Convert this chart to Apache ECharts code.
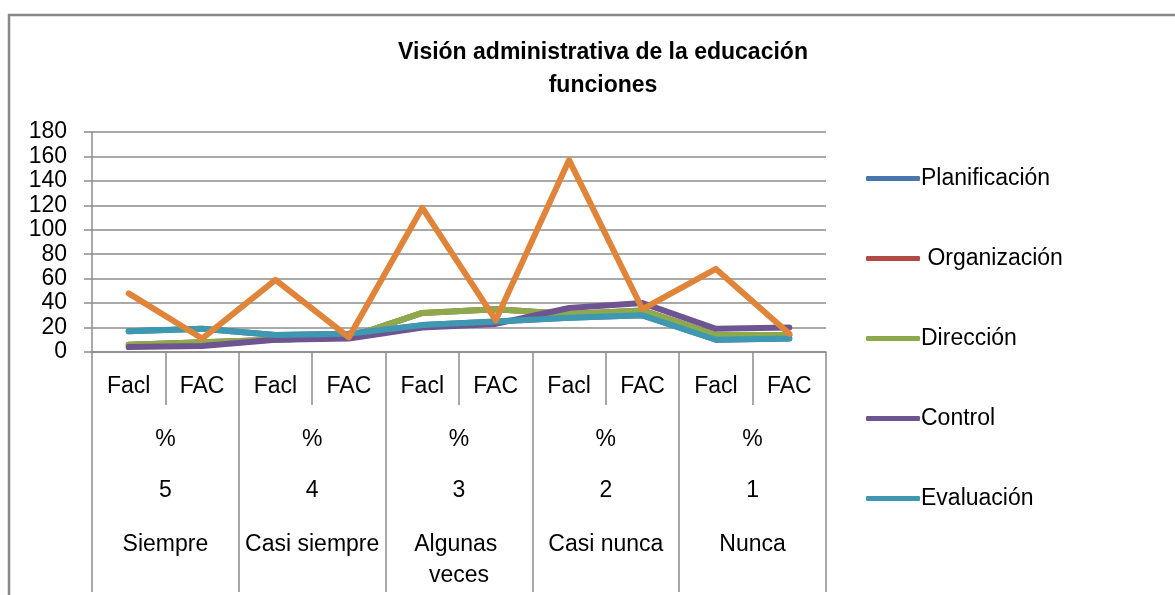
<!DOCTYPE html>
<html>
<head>
<meta charset="utf-8">
<script src="https://cdn.jsdelivr.net/npm/echarts@6/dist/echarts.min.js"></script>
<style>
html,body{margin:0;padding:0;background:#fff;}
#c{width:1175px;height:595px;}
</style>
</head>
<body>
<div id="c"></div>
<script>
// ---- data ----
var categoryKeys = ['S-Facl','S-FAC','CS-Facl','CS-FAC','AV-Facl','AV-FAC','CN-Facl','CN-FAC','N-Facl','N-FAC'];
var subLabels = ['Facl','FAC','Facl','FAC','Facl','FAC','Facl','FAC','Facl','FAC'];
var pctLabels = ['%','%','%','%','%'];
var scaleLabels = ['5','4','3','2','1'];
var groupNames = ['Siempre','Casi siempre','Algunas veces','Casi nunca','Nunca'];

var planificacion = [17, 19, 14, 15, 22, 25, 28, 30, 10, 11];
var organizacion  = [6, 8, 10, 12, 32, 35, 31, 34, 14, 14];
var direccion     = [6, 8, 10, 12, 32, 35, 31, 34, 14, 14];
var control       = [4, 5, 10, 11, 20, 23, 36, 40, 19, 20];
var evaluacion    = [17, 19, 14, 15, 22, 25, 28, 30, 10, 11];
var total         = [48, 11, 59, 12, 118, 26, 157, 35, 68, 15];

var yTicks = {min: 0, max: 180, interval: 20};

var FONT = '"Liberation Sans", Arial, sans-serif';
var GRID_C = '#8c8c8c';

function lineSeries(name, data, color) {
  return {
    name: name, type: 'line', data: data, xAxisIndex: 0, yAxisIndex: 0,
    symbol: 'none', smooth: false,
    lineStyle: {color: color, width: 6, cap: 'round', join: 'round'},
    itemStyle: {color: color},
    emphasis: {disabled: true}
  };
}

var chart = echarts.init(document.getElementById('c'), null, {renderer: 'canvas'});
var option = {
  backgroundColor: '#fff',
  animation: false,
  textStyle: {fontFamily: FONT},
  title: {
    text: 'Visión administrativa de la educación\nfunciones',
    left: 598, top: 31, textAlign: 'center',
    textStyle: {fontFamily: FONT, fontSize: 23, fontWeight: 'bold', color: '#000', lineHeight: 33}
  },
  graphic: [{
    type: 'rect', silent: true,
    shape: {x: 9, y: 15, width: 1250, height: 700},
    style: {fill: 'none', stroke: '#888', lineWidth: 2.5}
  }],
  legend: {
    orient: 'vertical', left: 861, top: 162,
    data: ['Planificación','Organización','Dirección','Control','Evaluación'],
    icon: 'roundRect', itemWidth: 54, itemHeight: 5, itemGap: 57,
    formatter: function (n) { return n === 'Organización' ? ' ' + n : n; },
    textStyle: {fontFamily: FONT, fontSize: 23, color: '#000', padding: [0,0,0,-4]}
  },
  grid: {left: 92, right: 349, top: 132, bottom: 243, containLabel: false},
  xAxis: [
    {
      type: 'category', data: categoryKeys, position: 'bottom', boundaryGap: true,
      axisLine: {show: true, lineStyle: {color: GRID_C, width: 1.5}},
      axisTick: {show: true, length: 53, interval: 0, lineStyle: {color: GRID_C, width: 1.5}},
      axisLabel: {interval: 0, margin: 23, fontSize: 23, color: '#000', fontFamily: FONT,
        formatter: function (v, i) { return subLabels[i]; }},
      splitLine: {show: false}
    },
    {
      type: 'category', data: groupNames, position: 'bottom', boundaryGap: true,
      axisLine: {show: false},
      axisTick: {show: true, length: 240, interval: 0, lineStyle: {color: GRID_C, width: 1.5}},
      axisLabel: {interval: 0, margin: 76, fontSize: 23, color: '#000', fontFamily: FONT,
        formatter: function (v, i) { return pctLabels[i]; }},
      splitLine: {show: false}
    },
    {
      type: 'category', data: groupNames, position: 'bottom', boundaryGap: true,
      axisLine: {show: false}, axisTick: {show: false},
      axisLabel: {interval: 0, margin: 127, fontSize: 23, color: '#000', fontFamily: FONT,
        formatter: function (v, i) { return scaleLabels[i]; }},
      splitLine: {show: false}
    },
    {
      type: 'category', data: groupNames, position: 'bottom', boundaryGap: true,
      axisLine: {show: false}, axisTick: {show: false},
      axisLabel: {interval: 0, margin: 177, fontSize: 23, color: '#000', fontFamily: FONT,
        lineHeight: 31, width: 140, overflow: 'break'},
      splitLine: {show: false}
    }
  ],
  yAxis: {
    type: 'value', min: yTicks.min, max: yTicks.max, interval: yTicks.interval,
    axisLine: {show: true, lineStyle: {color: GRID_C, width: 1.5}},
    axisTick: {show: true, length: 8, lineStyle: {color: GRID_C, width: 1.5}},
    axisLabel: {margin: 25, fontSize: 23, color: '#000', fontFamily: FONT},
    splitLine: {show: true, lineStyle: {color: GRID_C, width: 1.5}}
  },
  series: [
    lineSeries('Planificación', planificacion, '#4A76AE'),
    lineSeries('Organización', organizacion, '#B14A45'),
    lineSeries('Dirección', direccion, '#8CAA4C'),
    lineSeries('Control', control, '#6E5490'),
    lineSeries('Evaluación', evaluacion, '#3E98B2'),
    lineSeries('Total', total, '#E0843A')
  ]
};
chart.setOption(option);
</script>
</body>
</html>
